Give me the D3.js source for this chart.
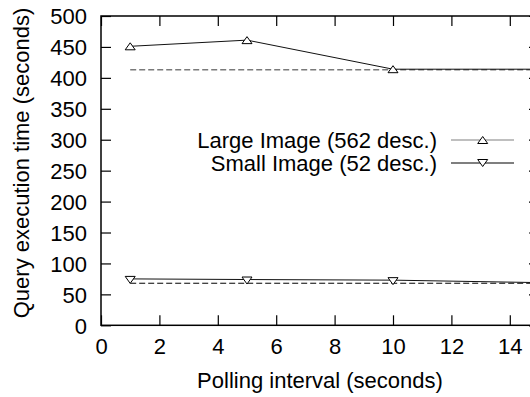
<!DOCTYPE html>
<html>
<head>
<meta charset="utf-8">
<script src="https://d3js.org/d3.v7.min.js"></script>
<style>
  body { margin: 0; background: #fff; }
  text { font-family: "Liberation Sans", Arial, Helvetica, sans-serif; fill: #000; }
</style>
</head>
<body>
<div id="chart"></div>
<script>

////////////////////////////////////////////////////////////////////////
// Data

let intervals = [1, 5, 10, 15];
let largeTimes = [451, 461, 414, 414];
let smallTimes = [75, 74, 73, 69];

// the dashed reference levels (no polling)
let baseX = [1, 15];
let largeBase = [413, 413];
let smallBase = [68, 68];

let xTicks = [0, 2, 4, 6, 8, 10, 12, 14];
let yTicks = [0, 50, 100, 150, 200, 250, 300, 350, 400, 450, 500];

let seriesNames = ["Large Image (562 desc.)", "Small Image (52 desc.)"];


////////////////////////////////////////////////////////////////////////
// svg + scales

let width = 530;
let height = 397;
let plotLeft = 101, plotTop = 16, plotBottom = 325.3, plotRight = 539;
let fontSize = 22;

let svg = d3.select("#chart")
  .append("svg")
  .attr("width", width).attr("height", height);

let xScale = d3.scaleLinear().domain([0, 15]).range([plotLeft, plotRight]);
let yScale = d3.scaleLinear().domain([0, 500]).range([plotBottom, plotTop]);

// ticks point inwards on all four sides, like gnuplot mirror ticks
let tickLen = 10;

let xAxisG = svg.append("g")
  .attr("transform", "translate(0," + plotBottom + ")")
  .call(d3.axisBottom(xScale).tickValues(xTicks).tickSizeInner(-tickLen).tickSizeOuter(0))
  .call(g => g.select(".domain").remove());

svg.append("g")
  .attr("transform", "translate(0," + plotTop + ")")
  .call(d3.axisTop(xScale).tickValues(xTicks).tickSizeInner(-tickLen).tickSizeOuter(0).tickFormat(""))
  .call(g => g.select(".domain").remove());

let yAxisG = svg.append("g")
  .attr("transform", "translate(" + plotLeft + ",0)")
  .call(d3.axisLeft(yScale).tickValues(yTicks).tickSizeInner(-tickLen).tickSizeOuter(0))
  .call(g => g.select(".domain").remove());

svg.append("g")
  .attr("transform", "translate(" + plotRight + ",0)")
  .call(d3.axisRight(yScale).tickValues(yTicks).tickSizeInner(-tickLen).tickSizeOuter(0).tickFormat(""))
  .call(g => g.select(".domain").remove());

svg.selectAll(".tick line").attr("stroke", "#000").attr("stroke-width", 1.2);
svg.selectAll(".tick text")
  .style("font-size", fontSize + "px")
  .style("font-family", "Liberation Sans, Arial, sans-serif")
  .attr("fill", "#000");

// place tick labels where the reference has them
xAxisG.selectAll(".tick text").attr("y", 29).attr("dy", 0);
yAxisG.selectAll(".tick text").attr("x", -14).attr("dy", "0.35em");

// frame
svg.append("rect")
  .attr("x", plotLeft).attr("y", plotTop)
  .attr("width", plotRight - plotLeft).attr("height", plotBottom - plotTop)
  .attr("fill", "none").attr("stroke", "#000").attr("stroke-width", 1.5);


////////////////////////////////////////////////////////////////////////
// lines

let line = d3.line().x(d => xScale(d[0])).y(d => yScale(d[1]));

svg.append("path")
  .datum(baseX.map((x, i) => [x, largeBase[i]]))
  .attr("d", line)
  .attr("fill", "none").attr("stroke", "#7a7a7a").attr("stroke-width", 1.5)
  .attr("stroke-dasharray", "6,3");

svg.append("path")
  .datum(baseX.map((x, i) => [x, smallBase[i]]))
  .attr("d", line)
  .attr("fill", "none").attr("stroke", "#000").attr("stroke-width", 1)
  .attr("stroke-dasharray", "6,3");

svg.append("path")
  .datum(intervals.map((x, i) => [x, largeTimes[i]]))
  .attr("d", line)
  .attr("fill", "none").attr("stroke", "#111").attr("stroke-width", 1);

svg.append("path")
  .datum(intervals.map((x, i) => [x, smallTimes[i]]))
  .attr("d", line)
  .attr("fill", "none").attr("stroke", "#111").attr("stroke-width", 1);

// open triangles, up for large and down for small
function triangle(up) {
  let w = 5, h = 3.5;
  return up
    ? "M0," + (-h) + "L" + w + "," + h + "L" + (-w) + "," + h + "Z"
    : "M0," + h + "L" + w + "," + (-h) + "L" + (-w) + "," + (-h) + "Z";
}

svg.selectAll(".largept")
  .data(intervals.slice(0, 3))
  .enter()
  .append("path")
  .attr("class", "largept")
  .attr("transform", (d, i) => "translate(" + xScale(d) + "," + yScale(largeTimes[i]) + ")")
  .attr("d", triangle(true))
  .attr("fill", "#fff").attr("stroke", "#000").attr("stroke-width", 1);

svg.selectAll(".smallpt")
  .data(intervals.slice(0, 3))
  .enter()
  .append("path")
  .attr("class", "smallpt")
  .attr("transform", (d, i) => "translate(" + xScale(d) + "," + (yScale(smallTimes[i]) + 1) + ")")
  .attr("d", triangle(false))
  .attr("fill", "#fff").attr("stroke", "#000").attr("stroke-width", 1);


////////////////////////////////////////////////////////////////////////
// legend

let legendY = [140, 163];
let legendColors = ["#808080", "#000"];

seriesNames.forEach(function(name, i) {
  svg.append("text")
    .attr("x", 437).attr("y", legendY[i] + 8)
    .attr("text-anchor", "end")
    .style("font-size", fontSize + "px")
    .text(name);
  svg.append("line")
    .attr("x1", 451).attr("x2", 514)
    .attr("y1", legendY[i]).attr("y2", legendY[i])
    .attr("stroke", legendColors[i]).attr("stroke-width", 1.2);
  svg.append("path")
    .attr("transform", "translate(482.7," + legendY[i] + ")")
    .attr("d", triangle(i === 0))
    .attr("fill", "#fff").attr("stroke", "#000").attr("stroke-width", 1);
});


////////////////////////////////////////////////////////////////////////
// axis titles

svg.append("text")
  .attr("x", (plotLeft + plotRight) / 2).attr("y", 388)
  .attr("text-anchor", "middle")
  .style("font-size", fontSize + "px")
  .text("Polling interval (seconds)");

svg.append("text")
  .attr("transform", "translate(29,163) rotate(-90)")
  .attr("text-anchor", "middle")
  .style("font-size", fontSize + "px")
  .text("Query execution time (seconds)");

</script>
</body>
</html>
